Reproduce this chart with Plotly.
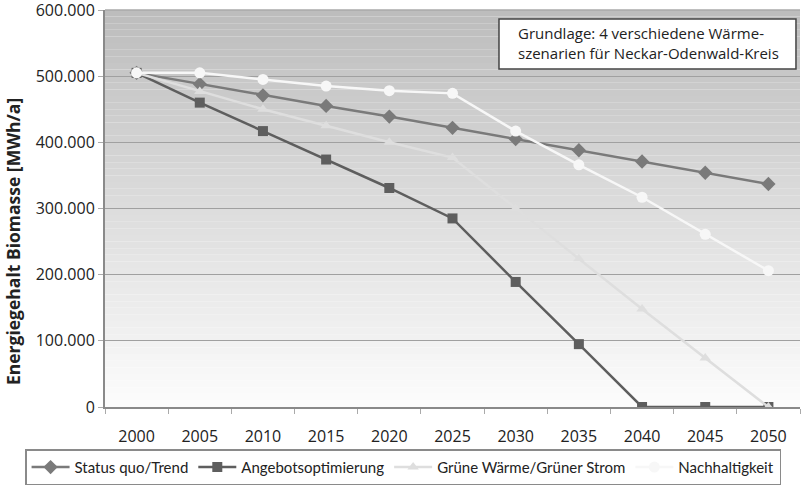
import plotly.graph_objects as go

years = ["2000", "2005", "2010", "2015", "2020", "2025", "2030", "2035", "2040", "2045", "2050"]
status_quo = [505000, 488000, 471000, 455000, 439000, 422000, 405000, 388000, 371000, 354000, 337000]
angebot = [505000, 460000, 417000, 374000, 331000, 285000, 189000, 95000, 0, 0, 0]
gruene = [505000, 477000, 450000, 425000, 400000, 377000, 300000, 224000, 148000, 74000, 0]
nachhaltig = [505000, 505000, 495000, 485000, 478000, 474000, 417000, 366000, 317000, 261000, 206000]
y_ticks = [0, 100000, 200000, 300000, 400000, 500000, 600000]

tick_font = "Open Sans, DejaVu Sans, sans-serif"
legend_font = "Lato, Open Sans, DejaVu Sans, sans-serif"

fig = go.Figure()
fig.add_trace(go.Scatter(x=years, y=status_quo, name="Status quo/Trend", mode="lines+markers",
                         line=dict(color="#7a7a7a", width=2.5),
                         marker=dict(symbol="diamond", size=11, color="#7a7a7a")))
fig.add_trace(go.Scatter(x=years, y=angebot, name="Angebotsoptimierung", mode="lines+markers",
                         line=dict(color="#5e5e5e", width=2.5),
                         marker=dict(symbol="square", size=10, color="#5e5e5e")))
fig.add_trace(go.Scatter(x=years, y=gruene, name="Grüne Wärme/Grüner Strom", mode="lines+markers",
                         line=dict(color="#dedede", width=2.5),
                         marker=dict(symbol="triangle-up", size=10, color="#dedede")))
fig.add_trace(go.Scatter(x=years, y=nachhaltig, name="Nachhaltigkeit", mode="lines+markers",
                         line=dict(color="#f7f7f7", width=2.5),
                         marker=dict(symbol="circle", size=11, color="#f7f7f7")))

# gradient background for plot area
shapes = []
n = 60
top = (0xbd, 0xbd, 0xbd)
bot = (0xfc, 0xfc, 0xfc)
for i in range(n):
    t = i / (n - 1)
    c = tuple(int(round(top[k] + (bot[k] - top[k]) * t)) for k in range(3))
    shapes.append(dict(type="rect", xref="paper", yref="paper",
                       x0=0, x1=1, y0=1 - (i + 1) / n, y1=1 - i / n,
                       fillcolor="rgb(%d,%d,%d)" % c, line=dict(width=0), layer="below"))
shapes.append(dict(type="line", xref="paper", yref="paper", x0=0, x1=1, y0=1, y1=1,
                   line=dict(color="#aaaaaa", width=1.5), layer="below"))
# annotation box
shapes.append(dict(type="rect", xref="paper", yref="paper",
                   x0=0.5669, x1=0.9942, y0=0.8514, y1=0.9773,
                   fillcolor="white", line=dict(color="#444444", width=1.5), layer="above"))

fig.update_layout(
    width=806, height=485,
    margin=dict(l=105, r=6, t=10, b=78, autoexpand=False),
    paper_bgcolor="white",
    plot_bgcolor="rgba(0,0,0,0)",
    separators=",.",
    font=dict(family=tick_font, size=16, color="#222"),
    shapes=shapes,
    showlegend=True,
    legend=dict(orientation="h", x=-0.115, xanchor="left",
                y=-0.152, yanchor="middle",
                bordercolor="#8a8a8a", borderwidth=1.5,
                font=dict(family=legend_font, size=15),
                itemwidth=38, tracegroupgap=0),
    annotations=[
        dict(xref="paper", yref="paper", x=0.5914, y=0.917, xanchor="left", yanchor="middle",
             text="Grundlage: 4 verschiedene Wärme-<br>szenarien für Neckar-Odenwald-Kreis",
             showarrow=False, align="left",
             font=dict(family=tick_font, size=15, color="#222")),
        dict(xref="paper", yref="paper", x=-0.1324, y=0.418, xanchor="center", yanchor="middle",
             text="<b>Energiegehalt Biomasse [MWh/a]</b>", textangle=-90, showarrow=False,
             font=dict(family=tick_font, size=17.5, color="#222")),
    ],
)
fig.update_xaxes(type="category", range=[-0.5, 10.5], showgrid=False,
                 showline=True, linecolor="#8a8a8a", linewidth=2, mirror=False,
                 ticks="outside", tickson="boundaries", ticklen=5, tickcolor="#aaa",
                 ticklabelstandoff=14, tickfont=dict(size=16), automargin=False)
fig.update_yaxes(range=[0, 600000], tickvals=y_ticks, tickformat=",d",
                 showgrid=True, gridcolor="#a0a0a0", gridwidth=1,
                 showline=True, linecolor="#8a8a8a", linewidth=2,
                 ticks="outside", ticklen=5, tickcolor="#aaa", zeroline=False,
                 ticklabeloverflow="allow", automargin=False,
                 tickfont=dict(size=16))

fig.write_html("out.html")
